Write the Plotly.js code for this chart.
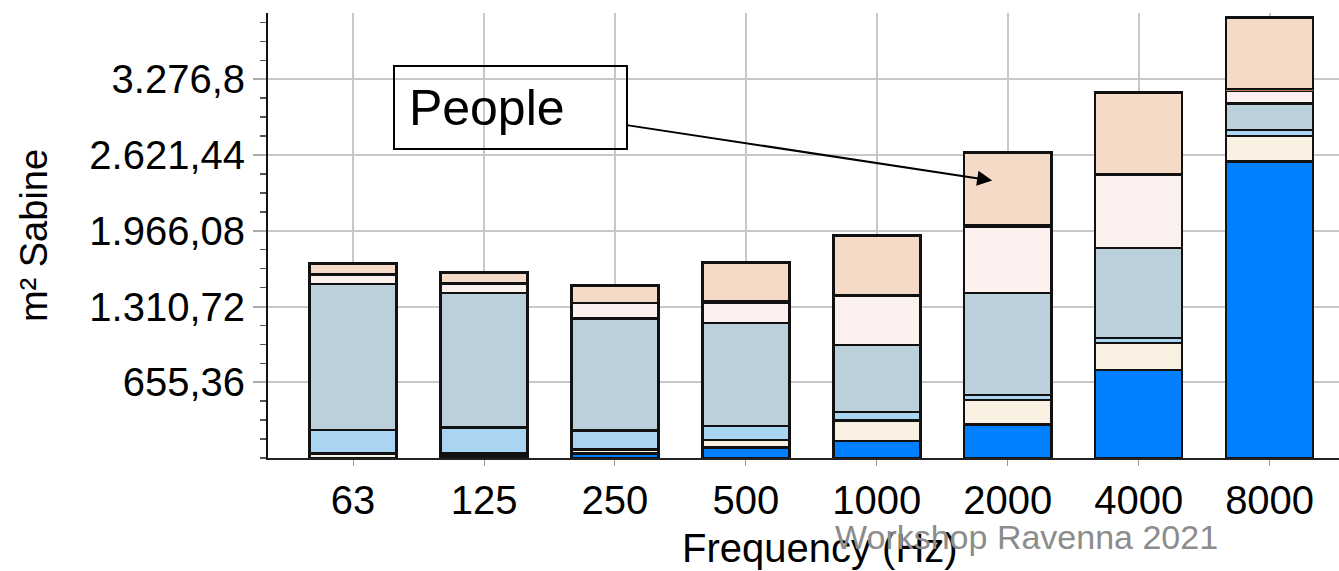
<!DOCTYPE html>
<html>
<head>
<meta charset="utf-8">
<script src="https://cdn.plot.ly/plotly-3.0.1.min.js"></script>
<style>html,body{margin:0;padding:0;background:#fff;}#chart{width:1339px;height:571px;}</style>
</head>
<body>
<div id="chart"></div>
<script>
// Categories (octave band centre frequencies)
const frequencies = ["63", "125", "250", "500", "1000", "2000", "4000", "8000"];

// Stacked absorption contributions (m² Sabine), bottom to top
const layer1Blue      = [2, 22, 41, 93, 147, 292, 763, 2566];
const layer2Cream     = [38, 19, 34, 63, 177, 211, 231, 219];
const layer3LightBlue = [203, 225, 162, 121, 72, 43, 43, 52];
const layer4Gray      = [1263, 1162, 971, 891, 581, 882, 778, 229];
const layer5Pink      = [80, 80, 133, 178, 430, 572, 638, 110];
const layer6Brown     = [null, null, null, 10, null, 10, null, 18];
const layer7People    = [96, 98, 150, 336, 520, 633, 709, 616];

// Y tick values and labels
const yTickVals = [655.36, 1310.72, 1966.08, 2621.44, 3276.8];
const yTickText = ["655,36", "1.310,72", "1.966,08", "2.621,44", "3.276,8"];

const series = [
  {y: layer1Blue, color: "#0080FF", lw: 2.5},
  {y: layer2Cream, color: "#F9F0E1", lw: 2.5},
  {y: layer3LightBlue, color: "#A9D5F2", lw: 2.5},
  {y: layer4Gray, color: "#BBD0DB", lw: 2.5},
  {y: layer5Pink, color: "#FCF1EE", lw: 2.5},
  {y: layer6Brown, color: "#C27A5A", lw: 0},
  {y: layer7People, color: "#F4DAC7", lw: 2.5}
];

const traces = series.map(s => ({
  type: "bar",
  x: frequencies,
  y: s.y,
  marker: {color: s.color, line: {color: "#111", width: s.lw}},
  hoverinfo: "skip",
  showlegend: false
}));

const layout = {
  width: 1339,
  height: 571,
  margin: {l: 268, r: 0, t: 13, b: 113},
  paper_bgcolor: "#fff",
  plot_bgcolor: "#fff",
  barmode: "stack",
  bargap: 0.335,
  separators: ",.",
  font: {family: "Liberation Sans, Arial, sans-serif", color: "#000"},
  xaxis: {
    type: "category",
    range: [-0.65, 7.53],
    showgrid: true,
    gridcolor: "#c8c8c8",
    gridwidth: 2,
    showline: true,
    linecolor: "#222",
    linewidth: 2,
    ticks: "outside",
    ticklen: 6,
    tickcolor: "#999",
    tickfont: {size: 40, color: "#000"},
    zeroline: false
  },
  yaxis: {
    range: [0, 3850],
    tickmode: "array",
    tickvals: yTickVals,
    ticktext: yTickText,
    showgrid: true,
    gridcolor: "#c8c8c8",
    gridwidth: 2,
    showline: true,
    linecolor: "#111",
    linewidth: 2,
    ticks: "outside",
    ticklen: 13,
    tickcolor: "#aaa",
    tickwidth: 2,
    tickfont: {size: 40, color: "#000"},
    minor: {tickmode: "linear", tick0: 0, dtick: 163.84, ticks: "outside", ticklen: 6, tickcolor: "#555", tickwidth: 1.5, showgrid: false},
    zeroline: false,
    title: {text: "m² Sabine", font: {size: 38, color: "#000"}, standoff: 30}
  },
  annotations: [
    {
      x: 4.881, y: 2401, xref: "x", yref: "y",
      ax: -482, ay: -73,
      text: "\u00a0People",
      showarrow: true,
      arrowhead: 2, arrowsize: 1.5, arrowwidth: 2, arrowcolor: "#000",
      font: {size: 50, color: "#000"},
      align: "left",
      width: 231, height: 81,
      bordercolor: "#000", borderwidth: 2, borderpad: 0,
      bgcolor: "rgba(0,0,0,0)"
    },
    {
      x: 0.515, y: -0.203, xref: "paper", yref: "paper",
      xanchor: "center", yanchor: "middle",
      text: "Frequency (Hz)",
      showarrow: false,
      font: {size: 40, color: "#000"}
    },
    {
      x: 0.708, y: -0.178, xref: "paper", yref: "paper",
      xanchor: "center", yanchor: "middle",
      text: "Workshop Ravenna 2021",
      showarrow: false,
      font: {size: 34, color: "#8c8c8c"}
    }
  ]
};

Plotly.newPlot("chart", traces, layout, {displayModeBar: false, staticPlot: true});
</script>
</body>
</html>
